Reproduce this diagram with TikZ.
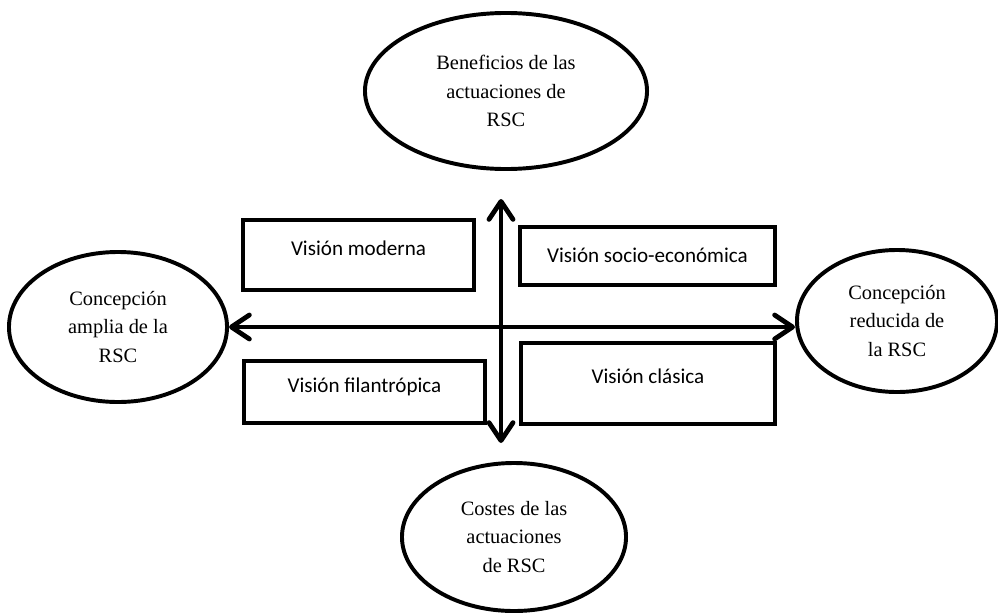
\documentclass[tikz,border=0pt]{standalone}
\usepackage{fontspec}
\setmainfont{Liberation Serif}
\newfontfamily\calibri{Carlito}
\usetikzlibrary{shapes.geometric,arrows.meta}

\begin{document}
\begin{tikzpicture}[x=0.025cm,y=-0.025cm,
        elipse/.style={ellipse,draw,line width=2.8pt,inner sep=0pt,align=center,font=\fontsize{14.5}{20.2}\selectfont},
        caja/.style={rectangle,draw,line width=2.8pt,inner sep=0pt,text height=0pt,text depth=0pt,font=\calibri\fontsize{15}{18}\selectfont},
        flecha/.style={line width=3.4pt,{Straight Barb[length=4.5mm,width=6mm,round]}-{Straight Barb[length=4.5mm,width=6mm,round]}}]
        \useasboundingbox (0,0) rectangle (998,612);
        \node[elipse,minimum width=7.05cm,minimum height=3.9cm] (benef) at (506,91) {Beneficios de las\\actuaciones de\\RSC};
        \node[elipse,minimum width=5.45cm,minimum height=3.75cm] (amplia) at (118,327) {Concepción\\amplia de la\\RSC};
        \node[elipse,minimum width=5cm,minimum height=3.55cm] (reducida) at (897,321) {Concepción\\reducida de\\la RSC};
        \node[elipse,minimum width=5.6cm,minimum height=3.7cm] (costes) at (514,537) {Costes de las\\actuaciones\\de RSC};
        \node[caja,minimum width=5.78cm,minimum height=1.75cm] (moderna) at (358.5,255) {Visión moderna};
        \node[caja,minimum width=6.38cm,minimum height=1.45cm,text height=0.3cm] (socio) at (647.5,256) {Visión socio-económica};
        \node[caja,minimum width=6.03cm,minimum height=1.55cm] (filan) at (364.5,392) {Visión filantrópica};
        \node[caja,minimum width=6.35cm,minimum height=2.03cm] (clasica) at (648,383.5) {Visión clásica};
        \coordinate (arriba) at (501,199);
        \coordinate (abajo) at (501,443);
        \draw[flecha] (amplia.east) -- (amplia.east -| reducida.west);
        \draw[flecha] (arriba) -- (abajo);
\end{tikzpicture}
\end{document}
